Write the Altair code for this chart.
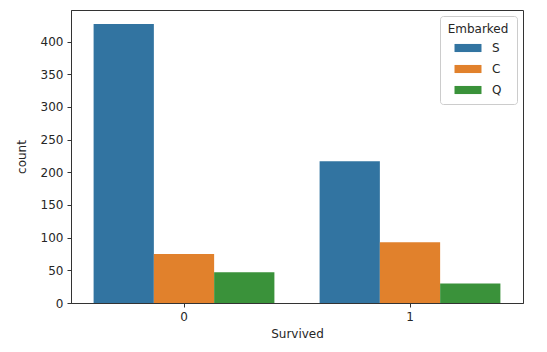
import altair as alt
import pandas as pd

survived = ["0", "0", "0", "1", "1", "1"]
embarked = ["S", "C", "Q", "S", "C", "Q"]
counts = [427, 75, 47, 217, 93, 30]

df = pd.DataFrame({"Survived": survived, "Embarked": embarked, "count": counts})

font = "DejaVu Sans"
chart = alt.Chart(df).mark_bar().encode(
    x=alt.X("Survived:N", title="Survived",
            scale=alt.Scale(paddingInner=0, paddingOuter=0),
            axis=alt.Axis(labelAngle=0, labelPadding=4, titlePadding=6, tickSize=4)),
    xOffset=alt.XOffset("Embarked:N", sort=["S", "C", "Q"],
                        scale=alt.Scale(paddingInner=0, paddingOuter=0.375)),
    y=alt.Y("count:Q", title="count",
            scale=alt.Scale(domain=[0, 448.35], nice=False),
            axis=alt.Axis(values=list(range(0, 401, 50)), grid=False, tickSize=4,
                          labelPadding=4, titlePadding=12)),
    color=alt.Color("Embarked:N", sort=["S", "C", "Q"],
                    scale=alt.Scale(domain=["S", "C", "Q"], range=["#3274a1", "#e1812c", "#3a923a"]),
                    legend=alt.Legend(orient="top-right", offset=6, strokeColor="#cccccc",
                                      fillColor="white", padding=8, cornerRadius=3,
                                      titleAlign="center", titleAnchor="middle",
                                      symbolType="M-2,-0.6H2V0.6H-2Z", symbolSize=182,
                                      symbolStrokeWidth=0, symbolOpacity=1,
                                      symbolOffset=7,
                                      rowPadding=8, labelOffset=17)),
).properties(
    width=452, height=293,
    autosize=alt.AutoSizeParams(type="none"),
    padding={"left": 71, "top": 10, "right": 24, "bottom": 49},
).configure_view(
    stroke="#333333", strokeWidth=1
).configure_axis(
    domainColor="#333333", tickColor="#333333", labelColor="#262626", titleColor="#262626",
    labelFont=font, titleFont=font, labelFontSize=12, titleFontSize=12,
    titleFontWeight="normal"
).configure_legend(
    labelFont=font, titleFont=font, labelFontSize=12, titleFontSize=12,
    titleFontWeight="normal", labelColor="#262626", titleColor="#262626"
)

chart.save("out.html", embed_options={"renderer": "svg", "actions": False})
